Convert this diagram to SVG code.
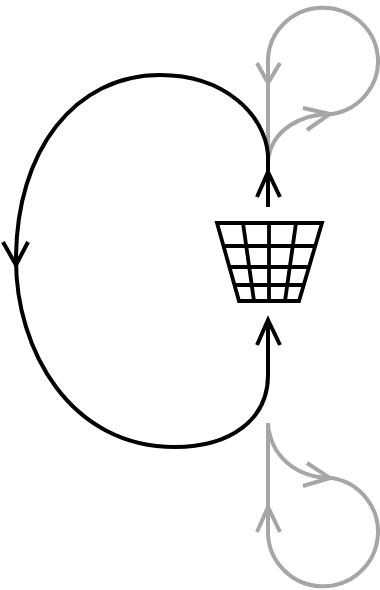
<svg xmlns="http://www.w3.org/2000/svg" width="380" height="590" viewBox="0 0 380 590">
<style>
.k{fill:none;stroke:#000;stroke-width:4}
.g{fill:none;stroke:#a6a6a6;stroke-width:4}
.b{fill:none;stroke:#000;stroke-width:3.8}
</style>
<rect width="380" height="590" fill="#fff"/>
<g id="connectors">
<path class="g" d="M268 160V60A55 53.500 0 1 1 332 114C300 114 272 130 268 160"/>
<path class="g" d="M257 63L268 83L280 63M303 108L330 114L307 130"/>
<path class="g" d="M268 423V533A55 54.500 0 1 0 332 478C295 478 270 455 268 423"/>
<path class="g" d="M257 532L268 507L280 532M307 463L330 478L303 486"/>
<path class="k" d="M268 207V155C265 115 225 75 160 75C75 75 16 150 16 260C16 350 70 447 175 447C230 447 268 420 268 375V325"/>
<path class="k" d="M257 197L268 172L280 197M257 345L268 320L280 345M3 242L16 265L28 242"/>
</g>
<g id="basket">
<path class="b" d="M217 223H322L299 301H239Z"/>
<path class="b" d="M224 246H315M230 267H309M235 285H303M243 223L254 301M269 223V301M296 223L285 301"/>
</g>
</svg>
